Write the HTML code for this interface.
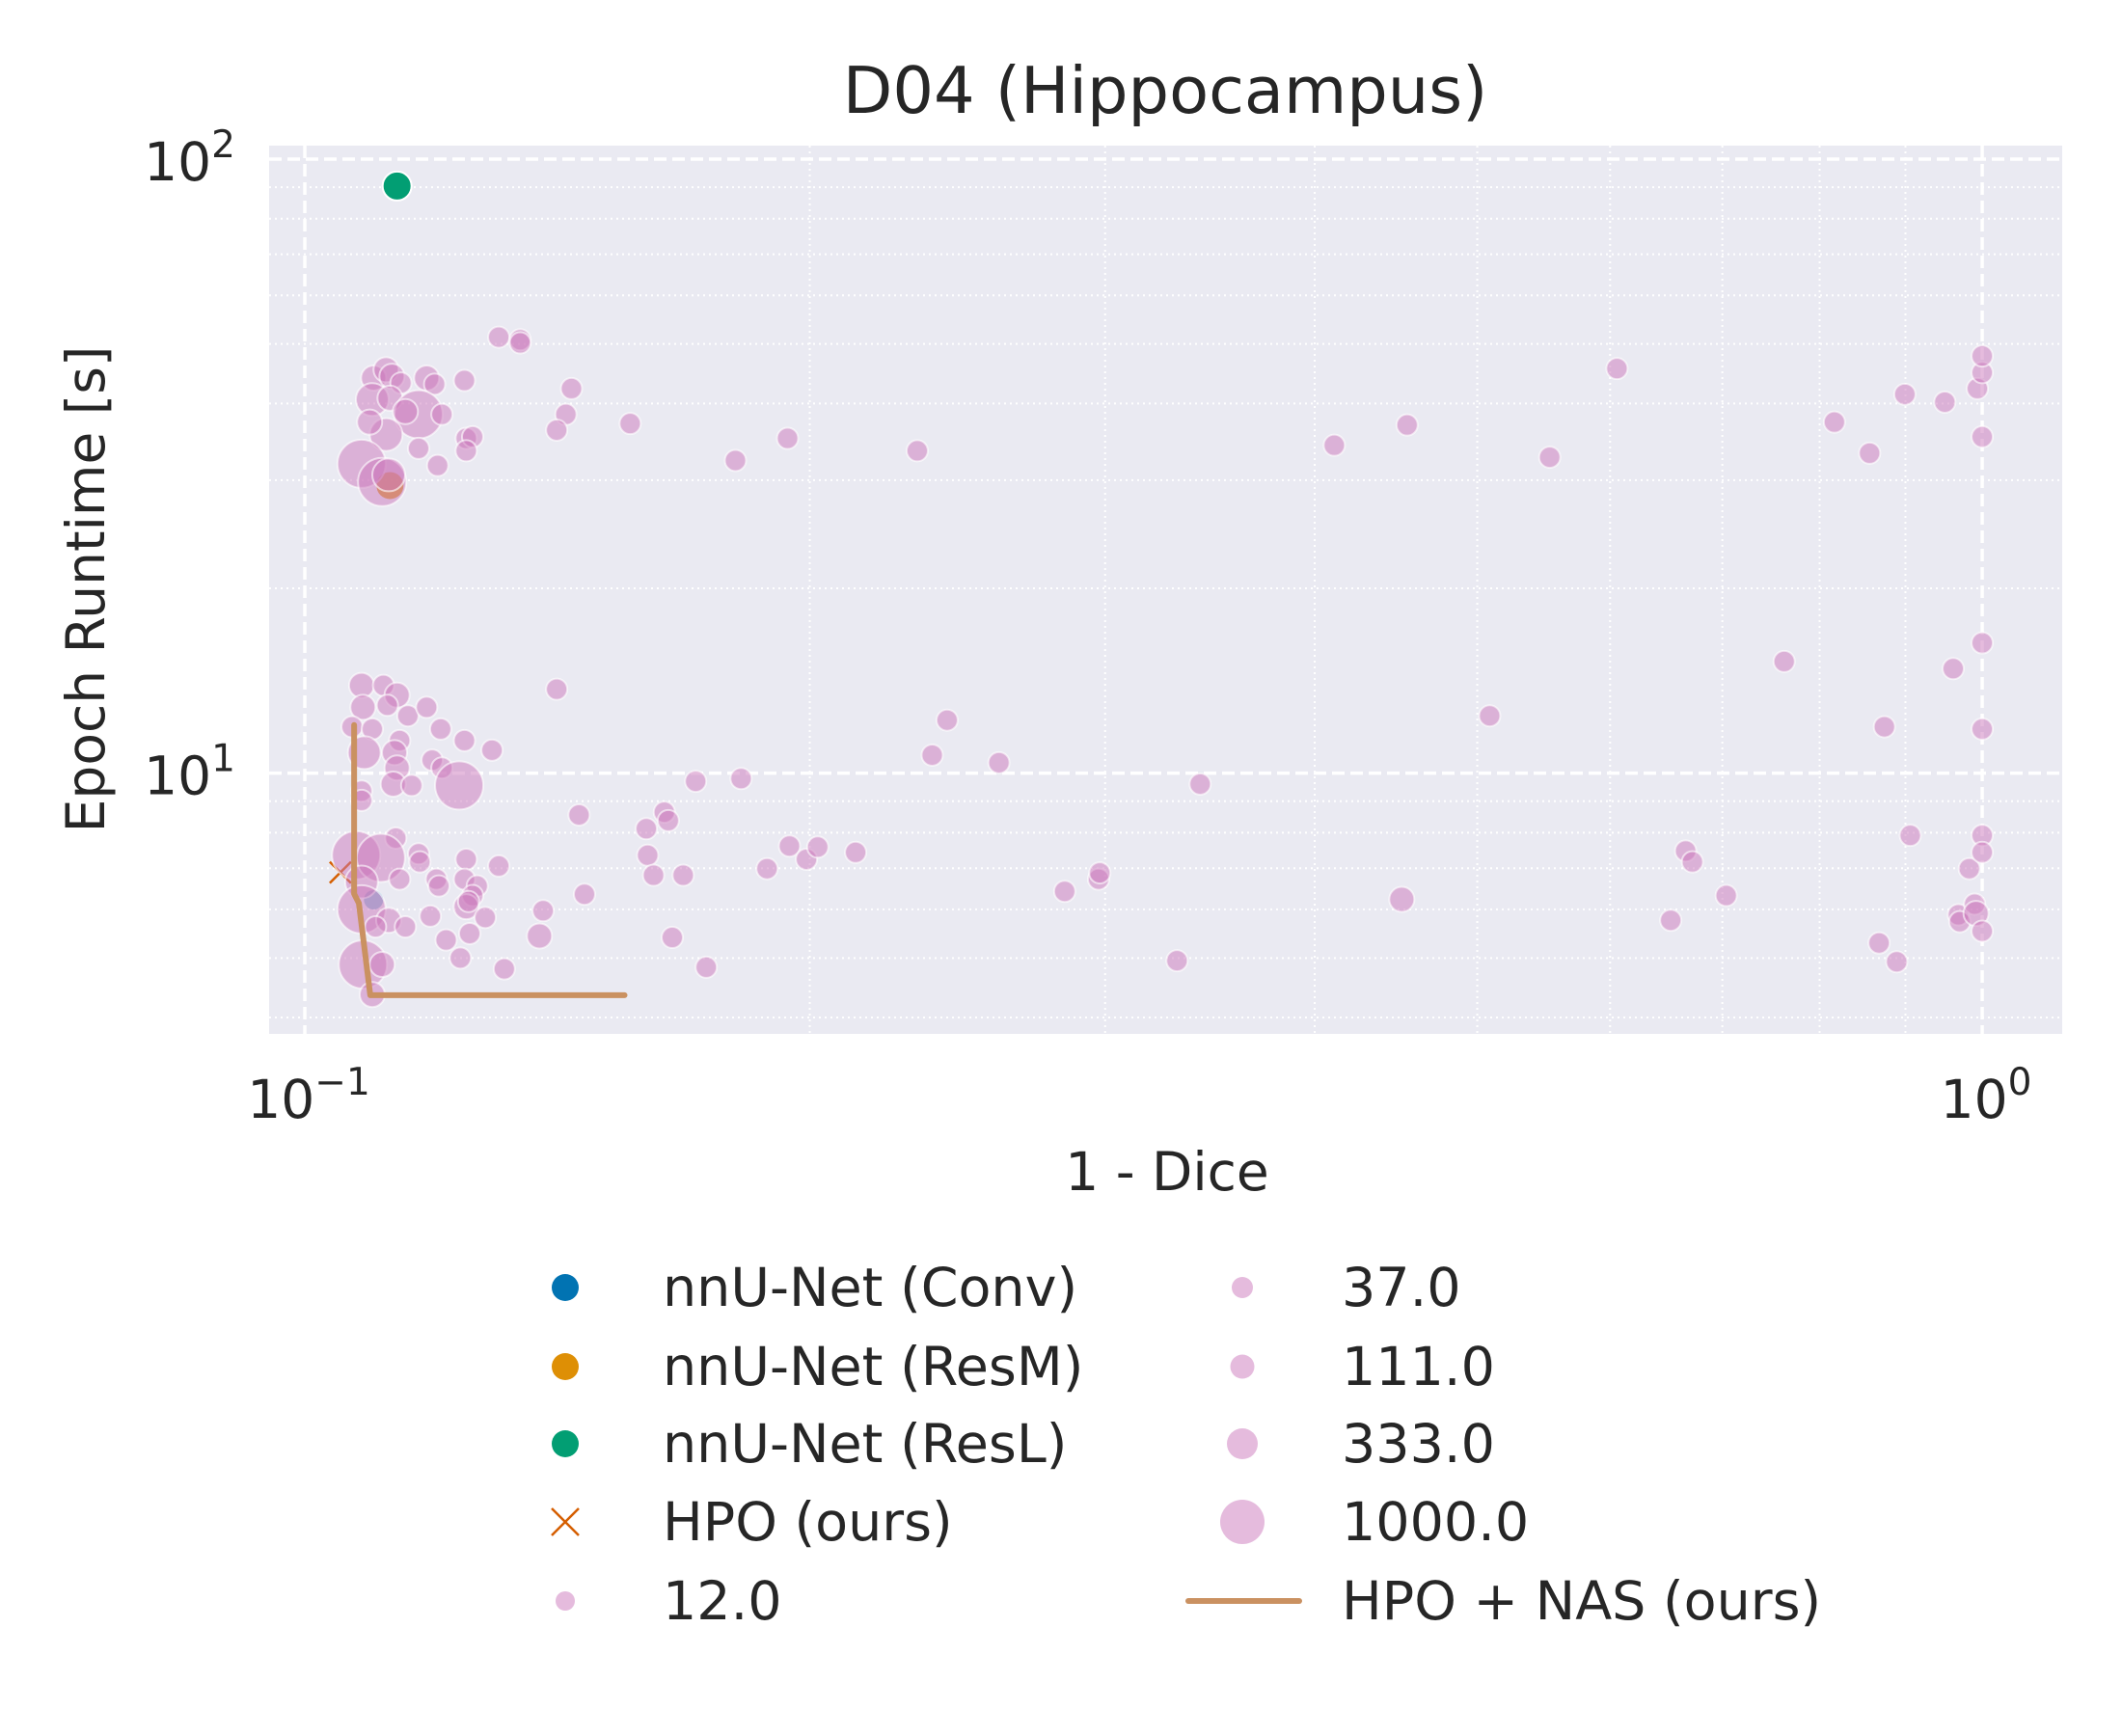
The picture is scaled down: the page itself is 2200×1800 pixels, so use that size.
<!DOCTYPE html>
<html><head><meta charset="utf-8"><style>
html,body{margin:0;padding:0;background:#fff;}
svg{display:block;font-family:"DejaVu Sans","Liberation Sans",sans-serif;}
</style></head><body>
<svg id="chart" width="2200" height="1800" viewBox="0 0 2200 1800">
<text x="1208" y="117" font-size="67" text-anchor="middle" fill="#262626">D04 (Hippocampus)</text>
<rect x="279" y="151" width="1859" height="921" fill="#eaeaf2"/>
<g id="grid"></g>
<g id="marks"></g>
<g id="ticks"></g>
<text x="1210" y="1234" font-size="55" text-anchor="middle" fill="#262626">1 - Dice</text>
<text transform="translate(108,611) rotate(-90)" font-size="55" text-anchor="middle" fill="#262626">Epoch Runtime [s]</text>
<g id="legend"></g>
</svg>
<script>
const xVals=[0.1305,0.1344,0.1344,0.1099,0.1118,0.1127,0.1141,0.1097,0.1124,0.1182,0.1195,0.1245,0.1442,0.1431,0.1413,0.1563,0.1169,0.1118,0.1093,0.1148,0.1207,0.1248,0.1259,0.1248,0.1169,0.12,0.1081,0.1112,0.1122,0.1806,0.194,0.2318,0.4109,0.4541,0.5523,0.6057,0.8164,0.8568,0.8993,0.95,0.9934,1.0,1.0,1.0,
0.1081,0.1114,0.1135,0.1083,0.112,0.1152,0.1182,0.1205,0.1245,0.1293,0.1067,0.1097,0.1139,0.1085,0.1131,0.1135,0.1191,0.1207,0.1236,0.1129,0.1158,0.1081,0.1081,0.1413,0.1457,0.171,0.182,0.2366,0.2415,0.2593,0.3418,0.5086,0.762,0.8744,0.961,1.0,1.0,
0.1133,0.1073,0.111,0.1169,0.1171,0.1139,0.1081,0.1198,0.1202,0.1248,0.1305,0.1245,0.1267,0.1259,0.1248,0.1252,0.1081,0.1122,0.1148,0.1102,0.1188,0.1281,0.1254,0.1083,0.1112,0.1097,0.1238,0.1214,0.1315,0.138,0.1387,0.1468,0.1601,0.1598,0.1638,0.1647,0.1614,0.1681,0.1656,0.1735,0.1886,0.1945,0.1991,0.2022,0.213,0.2838,0.2973,0.2978,0.3311,0.4508,0.6521,0.6656,0.6718,0.7037,0.868,0.8893,0.906,0.9679,0.9697,0.9824,0.9897,0.9916,1.0,1.0,1.0];
const yVals=[51.3,50.8,50.2,44.0,45.4,44.3,43.2,40.6,40.8,44.0,43.0,43.6,42.3,38.4,36.2,37.1,38.4,35.6,37.3,38.8,38.4,35.1,35.3,33.5,33.8,31.7,31.9,29.8,30.6,32.3,35.1,33.5,34.2,36.9,32.7,45.6,37.3,33.2,41.4,40.2,42.3,44.9,47.8,35.3,
13.9,13.9,13.4,12.8,12.9,12.4,12.8,11.8,11.3,10.9,11.9,11.8,11.3,10.8,10.8,10.2,10.5,10.2,9.55,9.6,9.55,9.35,9.03,13.7,8.55,9.7,9.8,10.7,12.2,10.4,9.6,12.4,15.2,11.9,14.8,16.3,11.8,
7.84,7.35,7.28,7.39,7.17,6.72,6.65,6.72,6.55,7.24,7.06,6.72,6.55,6.32,6.06,6.18,6.0,5.76,5.62,5.62,5.85,5.82,5.48,4.88,4.88,4.36,5.0,5.35,4.8,5.43,5.97,6.35,7.35,8.12,8.64,8.37,6.82,6.82,5.40,4.83,6.99,7.61,7.24,7.58,7.43,6.42,6.72,6.88,4.95,6.23,5.76,7.47,7.17,6.32,5.29,4.93,7.92,5.88,5.73,6.99,6.12,5.91,7.92,7.43,5.53];
const sizeVals=[37,37,37,111,111,111,37,333,111,111,37,37,37,37,37,37,1000,333,111,111,37,37,37,37,37,37,1000,1000,333,37,37,37,37,37,37,37,37,37,37,37,37,37,37,37,
111,37,111,111,37,37,37,37,37,37,37,37,37,333,111,111,37,37,1000,111,37,37,37,37,37,37,37,37,37,37,37,37,37,37,37,37,37,
37,1000,1000,37,37,37,333,37,37,37,37,37,37,37,111,37,1000,111,37,37,37,37,37,1000,111,111,37,37,37,111,37,37,37,37,37,37,37,37,37,37,37,37,37,37,37,37,37,37,37,111,37,37,37,37,37,37,37,37,37,37,37,111,37,37,37];
const baselineNames=["nnU-Net (Conv)","nnU-Net (ResM)","nnU-Net (ResL)"];
const baselineX=[0.1099,0.1124,0.1135];
const baselineY=[6.22,29.4,90.4];
const hpoX=[0.105];
const hpoY=[6.89];
const nasX=[0.107,0.107,0.1077,0.1094,0.1551];
const nasY=[11.98,6.36,6.14,4.35,4.35];
const sizeLegend=[12,37,111,333,1000];
const xTicks=[0.1,1];const xTickExp=["−1","0"];
const yTicks=[10,100];const yTickExp=["1","2"];
const xMinor=[0.2,0.3,0.4,0.5,0.6,0.7,0.8,0.9];
const yMinor=[4,5,6,7,8,9,20,30,40,50,60,70,80,90];

const NS="http://www.w3.org/2000/svg";
const L=279,R=2138,T=151,B=1072,LX0=-1.0213,LX1=0.0477,LY0=0.5754,LY1=2.022;
function xs(v){return L+(Math.log10(v)-LX0)/(LX1-LX0)*(R-L);}
function ys(v){return T+(LY1-Math.log10(v))/(LY1-LY0)*(B-T);}
function rOf(s){return {12:10,37:11,111:13,333:17,1000:25}[s];}
function mk(tag,at,parent){const e=document.createElementNS(NS,tag);for(const k in at)e.setAttribute(k,at[k]);parent.appendChild(e);return e;}
const grid=document.getElementById('grid'),marks=document.getElementById('marks'),ticks=document.getElementById('ticks'),legend=document.getElementById('legend');
const COLS=["#0173b2","#de8f05","#029e73"];
xMinor.forEach(v=>{const e=mk('line',{x1:xs(v),x2:xs(v),y1:T,y2:B,stroke:'#fff','stroke-width':2,'stroke-dasharray':'2,4'},grid);

});
yMinor.forEach(v=>{const e=mk('line',{x1:L,x2:R,y1:ys(v),y2:ys(v),stroke:'#fff','stroke-width':2,'stroke-dasharray':'2,4'},grid);

});
xTicks.forEach(v=>{const e=mk('line',{x1:xs(v),x2:xs(v),y1:T,y2:B,stroke:'#fff','stroke-width':3.5,'stroke-dasharray':'13,6'},grid);

});
yTicks.forEach(v=>{const e=mk('line',{x1:L,x2:R,y1:ys(v),y2:ys(v),stroke:'#fff','stroke-width':3.5,'stroke-dasharray':'13,6'},grid);

});
const bR=[10,14,15],bOp=[0.35,0.8,1];
baselineX.forEach((v,i)=>{const c=mk('circle',{cx:xs(v),cy:ys(baselineY[i]),r:bR[i],fill:COLS[i],'fill-opacity':bOp[i],stroke:'#fff','stroke-width':i===2?2:0},marks);

});
hpoX.forEach((v,i)=>{const cx=xs(v),cy=ys(hpoY[i]),d=11;const g=mk('path',{d:`M${cx-d},${cy-d}L${cx+d},${cy+d}M${cx-d},${cy+d}L${cx+d},${cy-d}`,stroke:'#d55e00','stroke-width':2.5,fill:'none'},marks);

});
xVals.forEach((v,i)=>{const c=mk('circle',{cx:xs(v),cy:ys(yVals[i]),r:rOf(sizeVals[i]),fill:'#cc78bc','fill-opacity':0.5,stroke:'#fff','stroke-opacity':0.6,'stroke-width':2},marks);

});
const pl=mk('polyline',{points:nasX.map((v,i)=>xs(v)+','+ys(nasY[i])).join(' '),fill:'none',stroke:'#ca9161','stroke-width':6,'stroke-linecap':'round','stroke-linejoin':'round'},marks);


function tickLabel(x,y,base,exp,anchor,name){const t=mk('text',{x:x,y:y,'font-size':55,fill:'#262626','text-anchor':anchor},ticks);


const a=document.createElementNS(NS,'tspan');a.textContent=base;t.appendChild(a);
const b=document.createElementNS(NS,'tspan');b.setAttribute('dy','-24');b.setAttribute('font-size','39');b.textContent=exp;t.appendChild(b);}
xTicks.forEach((v,i)=>tickLabel(xs(v)+4,1159,'10',xTickExp[i],'middle','x-tick-label'));
yTicks.forEach((v,i)=>tickLabel(244,ys(v)+22,'10',yTickExp[i],'end','y-tick-label'));
const rowsY=[1335,1417,1497,1578,1660];
const c1m=586,c1t=687,c2m=1288,c2t=1391;
function ltext(x,y,s){const t=mk('text',{x:x,y:y+19,'font-size':55.5,fill:'#262626'},legend);t.textContent=s;

}
baselineNames.forEach((n,i)=>{const c=mk('circle',{cx:c1m,cy:rowsY[i],r:14,fill:COLS[i]},legend);


ltext(c1t,rowsY[i],n);});
{const cx=c1m,cy=rowsY[3],d=14;const p=mk('path',{d:`M${cx-d},${cy-d}L${cx+d},${cy+d}M${cx-d},${cy+d}L${cx+d},${cy-d}`,stroke:'#d55e00','stroke-width':2.5},legend);


ltext(c1t,rowsY[3],'HPO (ours)');}
const lr={12:10,37:11,111:12.5,333:16,1000:23};
sizeLegend.forEach((s,i)=>{const x=i===0?c1m:c2m,tx=i===0?c1t:c2t,y=i===0?rowsY[4]:rowsY[i-1];
const c=mk('circle',{cx:x,cy:y,r:lr[s],fill:'#cc78bc','fill-opacity':0.5},legend);


ltext(tx,y,s.toFixed(1));});
{const l=mk('line',{x1:1232,x2:1347,y1:rowsY[4],y2:rowsY[4],stroke:'#ca9161','stroke-width':6,'stroke-linecap':'round'},legend);


ltext(c2t,rowsY[4],'HPO + NAS (ours)');}
</script>
</body></html>
